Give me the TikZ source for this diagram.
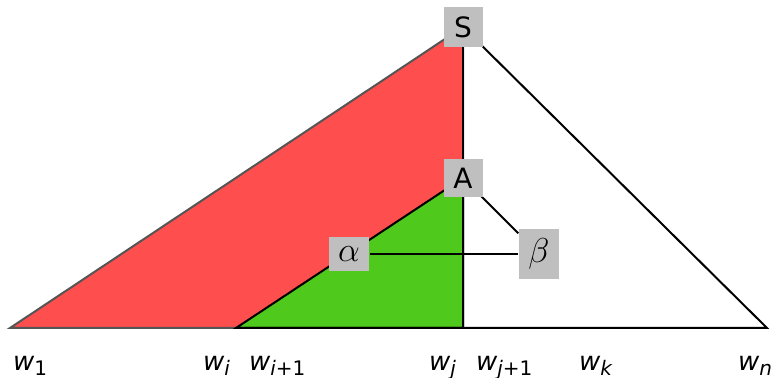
\documentclass[tikz,border=0pt]{standalone}
\usepackage{fontspec}
\setmainfont{DejaVu Sans}
\definecolor{redfill}{RGB}{255,78,78}
\definecolor{greenfill}{RGB}{78,201,28}
\definecolor{boxgray}{RGB}{191,191,191}
\definecolor{edgegray}{RGB}{85,85,85}
\newcommand{\wsub}[1]{\textit{w}\raisebox{-2.5pt}{\fontsize{10}{12}\selectfont #1}}
\tikzset{
  box/.style={fill=boxgray,minimum width=19.5pt,inner sep=4.6pt,font=\fontsize{14}{16}\selectfont},
  greekbox/.style={box,font=\fontsize{16}{18}\selectfont},
  wlabel/.style={anchor=base west,inner sep=0pt,font=\fontsize{13}{15}\selectfont},
}
\begin{document}
\begin{tikzpicture}[x=0.5pt,y=-0.5pt,line width=1pt]
\useasboundingbox (0,0) rectangle (771,378);
% base points of the tree
\coordinate (b1) at (10,328);
\coordinate (bi) at (236,328);
\coordinate (bj) at (463,328);
\coordinate (bn) at (767,328);
\coordinate (top) at (463,27);
\coordinate (atop) at (463,178);
% filled parts
\filldraw[fill=redfill,draw=edgegray] (b1)--(top)--(bj)--cycle;
\filldraw[fill=greenfill,draw=black] (bi)--(atop)--(bj)--cycle;
\draw (top)--(bn)--(bi);
\draw (top)--(bj);
% inner nodes
\node[greekbox] (alpha) at (349,254) {$\alpha$};
\node[greekbox] (beta) at (539,254) {$\beta$};
\draw (alpha)--(beta);
\draw (atop)--(beta);
\node[box] (S) at (top) {S};
\node[box] (A) at (atop) {A};
% leaves
\node[wlabel] (w1) at (12,371) {\wsub{1}};
\node[wlabel] (wi) at (202,371) {\wsub{\textit{i}}};
\node[wlabel] (wi1) at (248,371) {\wsub{\textit{i}+1}};
\node[wlabel] (wj) at (428,371) {\wsub{\textit{j}}};
\node[wlabel] (wj1) at (475,371) {\wsub{\textit{j}+1}};
\node[wlabel] (wk) at (578,371) {\wsub{\textit{k}}};
\node[wlabel] (wn) at (737,371) {\wsub{\textit{n}}};
\end{tikzpicture}
\end{document}
